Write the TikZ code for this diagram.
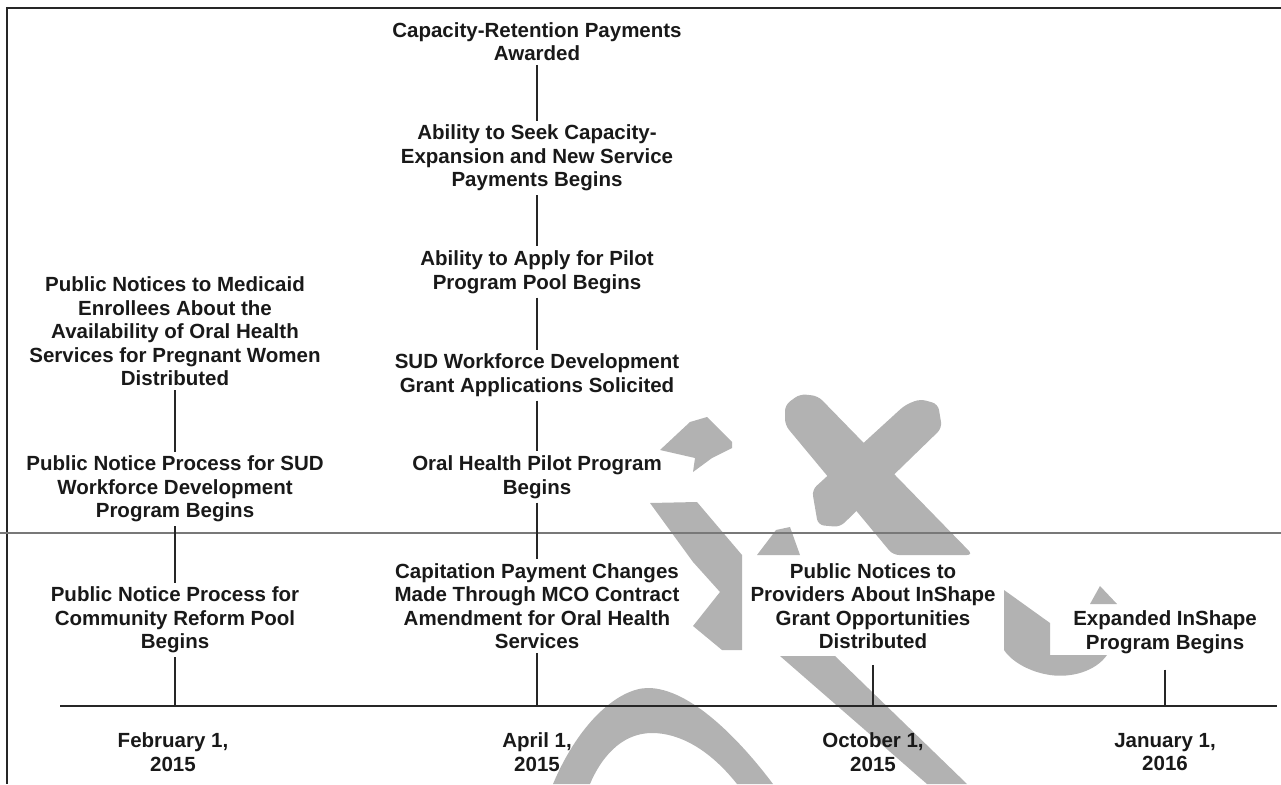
\documentclass[tikz,border=0pt]{standalone}
\usepackage{fontspec}
\setmainfont{Liberation Sans}
\definecolor{wmgray}{RGB}{178,178,178}
\definecolor{midline}{RGB}{120,120,120}
\begin{document}
\begin{tikzpicture}[x=1pt,y=-1pt,
  lbl/.style={align=center,font=\bfseries\fontsize{20.5}{23.5}\selectfont,inner sep=4pt,text=black!90},
  conn/.style={line width=1.3pt,draw=black!85},
  wm/.style={fill=wmgray,draw=none}]
\useasboundingbox (0,0) rectangle (1281,784);
% background watermark marks
\fill[wm,rounded corners=6pt] (785,405) -- (800,394) -- (818,396) -- (973,555) -- (893,555) -- (785,425) -- cycle;
\fill[wm,rounded corners=6pt] (905,405) -- (920,399) -- (938,404) -- (942,428) -- (840,527) -- (818,525) -- (812,490) -- cycle;
\fill[wm] (757,555) -- (800,555) -- (790,527) -- (776,530) -- cycle;
\fill[wm] (780,656) -- (835,656) -- (967,784) -- (927,784) -- cycle;
\fill[wm] (553,784) .. controls (580,720) and (620,688) .. (648,688) .. controls (690,688) and (740,740) .. (773,784) -- (737,784) .. controls (710,750) and (680,733) .. (652,733) .. controls (620,733) and (600,760) .. (590,784) -- cycle;
\fill[wm] (650,503) -- (697,502) -- (742,555) -- (742,650) -- (722,650) -- (693,626) -- (720,592) -- (693,562) -- cycle;
\fill[wm] (660,450) -- (690,422) -- (707,417) -- (732,442) -- (732,448) -- (712,458) -- (693,472) -- (695,458) -- cycle;
\fill[wm] (1004,590) -- (1050,623) -- (1050,655) -- (1107,655) .. controls (1095,672) and (1070,678) .. (1050,675) .. controls (1030,672) and (1012,662) .. (1004,650) -- cycle;
\fill[wm] (1090,604) -- (1117,604) -- (1100,586) -- cycle;
% frame
\draw[line width=2pt,black!85] (7,8) -- (1281,8);
\draw[line width=1.5pt,black!85] (7,7) -- (7,784);
% middle gray line
\draw[line width=1.5pt,midline] (0,533) -- (1281,533);
% axis
\coordinate (axL) at (60,706);
\coordinate (axR) at (1277,706);
\draw[line width=1.6pt,black!85] (axL) -- (axR);
% column 2 (April)
\node[lbl] (c1) at (537,41.5) {Capacity-Retention Payments\\Awarded};
\node[lbl] (c2) at (537,158) {Ability to Seek Capacity-\\Expansion and New Service\\Payments Begins};
\node[lbl] (c3) at (537,272) {Ability to Apply for Pilot\\Program Pool Begins};
\node[lbl] (c4) at (537,375) {SUD Workforce Development\\Grant Applications Solicited};
\node[lbl] (c5) at (537,477) {Oral Health Pilot Program\\Begins};
\node[lbl] (c6) at (537,606) {Capitation Payment Changes\\Made Through MCO Contract\\Amendment for Oral Health\\Services};
% column 1 (February)
\node[lbl] (l1) at (175,331.5) {Public Notices to Medicaid\\Enrollees About the\\Availability of Oral Health\\Services for Pregnant Women\\Distributed};
\node[lbl] (l2) at (175,489) {Public Notice Process for SUD\\Workforce Development\\Program Begins};
\node[lbl] (l3) at (175,620) {Public Notice Process for\\Community Reform Pool\\Begins};
% column 3 and 4
\node[lbl] (o1) at (873,606) {Public Notices to\\Providers About InShape\\Grant Opportunities\\Distributed};
\node[lbl] (j1) at (1165,632) {Expanded InShape\\Program Begins};
% dates
\node[lbl] (d1) at (173,752) {February 1,\\2015};
\node[lbl] (d2) at (537,752) {April 1,\\2015};
\node[lbl] (d3) at (873,752) {October 1,\\2015};
\node[lbl] (d4) at (1165,752) {January 1,\\2016};
% connectors
\draw[conn] (c1) -- (c2);
\draw[conn] (c2) -- (c3);
\draw[conn] (c3) -- (c4);
\draw[conn] (c4) -- (c5);
\draw[conn] (c5) -- (c6);
\draw[conn] (c6) -- (c6 |- axL);
\draw[conn] (l1) -- (l2);
\draw[conn] (l2) -- (l3);
\draw[conn] (l3) -- (l3 |- axL);
\draw[conn,shorten <=12pt] (o1) -- (o1 |- axL);
\draw[conn,shorten <=12pt] (j1) -- (j1 |- axL);
\end{tikzpicture}
\end{document}
